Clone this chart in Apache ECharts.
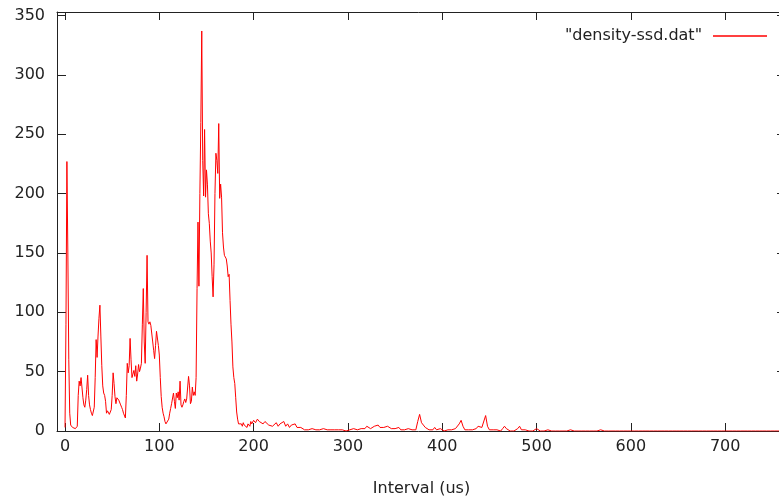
<!DOCTYPE html>
<html>
<head>
<meta charset="utf-8">
<title>density-ssd</title>
<script src="https://cdn.jsdelivr.net/npm/echarts@6/dist/echarts.min.js"></script>
<style>
  html, body { margin: 0; padding: 0; background: #fff; }
  #main { width: 779px; height: 499px; }
</style>
</head>
<body>
<div id="main"></div>
<script>
// density of intervals, 1 us bins from 0 to 199
var headStart = 0;
var headStep = 1;
var headCounts = [
    3, 90, 227, 150, 60, 15, 5, 4, 3, 4,
    3, 2, 3, 4, 30, 42, 38, 45, 46, 28,
    22, 20, 26, 35, 47, 30, 22, 18, 15, 13,
    12, 20, 45, 77, 62, 80, 95, 106, 80, 55,
    38, 32, 30, 25, 15, 17, 18, 14, 15, 18,
    30, 49, 40, 29, 23, 28, 28, 26, 25, 22,
    20, 18, 15, 14, 11, 30, 57, 49, 55, 78,
    60, 45, 48, 51, 46, 55, 42, 48, 56, 50,
    53, 57, 90, 120, 75, 57, 100, 148, 92, 90,
    92, 89, 88, 75, 68, 61, 72, 84, 83, 72,
    64, 45, 29, 20, 15, 12, 8, 6, 6, 7,
    10, 15, 19, 23, 23, 32, 25, 19, 32, 28,
    33, 26, 42, 22, 20, 22, 25, 27, 24, 27,
    26, 46, 38, 23, 25, 37, 30, 33, 30, 45,
    120, 176, 122, 200, 260, 337, 228, 198, 254, 197,
    220, 208, 183, 175, 160, 150, 130, 113, 140, 200,
    234, 228, 217, 259, 196, 208, 197, 167, 155, 148,
    147, 145, 139, 130, 132, 110, 90, 75, 54, 45,
    40, 28, 16, 10, 6, 7, 5, 6, 4, 7,
    5, 6, 4, 3, 6, 5, 4, 8, 6, 5
];

// the long tail, 2 us apart from 200 to 764
var tailStart = 200;
var tailStep = 2;
var tailCounts = [
    9, 7, 10, 8, 9, 6, 8, 7, 5, 6, 4,
    5, 7, 4, 6, 5, 8, 4, 6, 3, 5, 4, 6, 3, 2, 3,
    2, 1, 2, 1, 1, 2, 1, 1, 0, 1, 1, 2, 1, 1, 0, 1, 1, 1, 0, 1, 2, 1, 1, 0, 1, 1, 1, 2, 1, 1, 2,
    2, 3, 2, 4, 3, 2, 3, 4, 3, 5, 3, 4, 3, 2, 4, 3, 2, 3, 2, 2, 3, 1, 2, 1, 1, 2, 1, 1, 2, 1,
    8, 14, 7, 5, 3, 2, 1, 2, 1, 3, 1, 1, 2,
    1, 0, 1, 1, 2, 1, 1, 2, 3, 6, 9, 4, 1, 1, 1, 0, 1, 1, 2, 4, 5, 3, 2, 13, 4, 1,
    2, 1, 0, 1, 1, 0, 2, 4, 2, 1, 0, 1, 0, 1, 2, 4, 1, 0, 1, 0, 0, 1, 0, 1, 2,
    1, 0, 1, 0, 0, 1, 2, 0, 0, 0, 1, 0, 0, 0, 1, 0, 0, 1, 1, 0, 0, 0, 0, 0, 0, 0, 0, 0, 0, 0,
    0, 0, 0, 1, 0, 0, 0, 0, 0, 0, 0, 0, 0, 0, 0, 0, 0, 0, 0, 0,
    0, 0, 0, 0, 0, 0, 0, 0, 0, 0, 0, 0, 0, 0, 0, 0, 0, 0, 0, 0,
    0, 0, 0, 0, 0, 0, 0, 0, 0, 0, 0, 0, 0, 0, 0, 0, 0, 0, 0, 0,
    0, 0, 0, 0, 0, 0, 0, 0, 0, 0, 0, 0, 0, 0, 0, 0, 0, 0, 0, 0,
    0, 0, 0, 0, 0, 0, 0, 0, 0, 0, 0, 0, 0, 0, 0, 0, 0, 0, 0, 0,
    0, 0
];

var seriesName = '"density-ssd.dat"';
var xTitle = 'Interval (us)';

var points = [];
headCounts.forEach(function (c, i) { points.push([headStart + i * headStep, c]); });
tailCounts.forEach(function (c, i) { points.push([tailStart + i * tailStep, c]); });

var ink = '#222';
var font = 'DejaVu Sans';

var chart = echarts.init(document.getElementById('main'), null, {renderer: 'canvas'});
chart.setOption({
    animation: false,
    backgroundColor: '#fff',
    // plot box runs past the right edge of the picture, like the cropped original
    grid: {left: 57, top: 12, width: 729, height: 419, outerBoundsMode: 'none', containLabel: false},
    legend: {
        data: [seriesName],
        right: 7,
        top: 23,
        align: 'right',
        icon: 'rect',
        itemWidth: 54,
        itemHeight: 1.5,
        textStyle: {color: ink, fontSize: 16, fontFamily: font, padding: [0, 6, 0, 0]}
    },
    xAxis: [{
        type: 'value',
        min: -8.5,
        max: 764.5,
        splitNumber: 8,
        minInterval: 100,
        maxInterval: 100,
        name: xTitle,
        nameLocation: 'middle',
        nameGap: 50,
        nameTextStyle: {color: ink, fontSize: 16, fontFamily: font},
        axisLine: {onZero: false, lineStyle: {color: ink, width: 1}},
        axisTick: {inside: true, length: 8, lineStyle: {color: ink}},
        axisLabel: {color: ink, fontSize: 16, fontFamily: font, margin: 8, showMinLabel: false, showMaxLabel: false},
        splitLine: {show: false}
    }, {
        type: 'value',
        position: 'top',
        min: -8.5,
        max: 764.5,
        splitNumber: 8,
        minInterval: 100,
        maxInterval: 100,
        axisLine: {onZero: false, lineStyle: {color: ink, width: 1}},
        axisTick: {inside: true, length: 8, lineStyle: {color: ink}},
        axisLabel: {show: false},
        splitLine: {show: false}
    }],
    yAxis: [{
        type: 'value',
        min: 0,
        max: 353,
        interval: 50,
        axisLine: {show: true, onZero: false, lineStyle: {color: ink, width: 1}},
        axisTick: {show: true, inside: true, length: 9, lineStyle: {color: ink}},
        axisLabel: {color: ink, fontSize: 16, fontFamily: font, margin: 12, showMaxLabel: false},
        splitLine: {show: false}
    }, {
        type: 'value',
        position: 'right',
        min: 0,
        max: 353,
        interval: 50,
        axisLine: {show: true, onZero: false, lineStyle: {color: ink, width: 1}},
        axisTick: {show: true, inside: true, length: 9, lineStyle: {color: ink}},
        axisLabel: {show: false},
        splitLine: {show: false}
    }],
    series: [{
        name: seriesName,
        type: 'line',
        xAxisIndex: 0,
        yAxisIndex: 0,
        showSymbol: false,
        symbol: 'none',
        color: '#ff0000',
        lineStyle: {color: '#ff0000', width: 1},
        data: points
    }]
});
</script>
</body>
</html>
